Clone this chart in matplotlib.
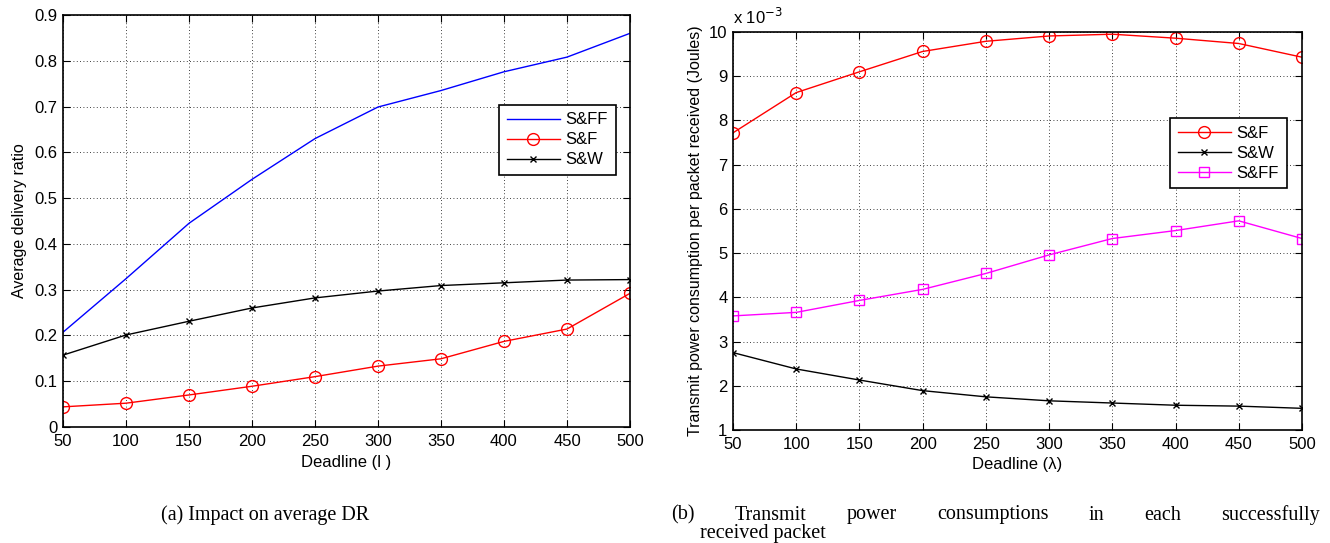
import matplotlib
matplotlib.use("Agg")
import matplotlib.pyplot as plt
import numpy as np

# ---------------- data ----------------
deadline = [50, 100, 150, 200, 250, 300, 350, 400, 450, 500]

dr_sff = [0.207, 0.324, 0.445, 0.541, 0.630, 0.699, 0.735, 0.776, 0.808, 0.860]
dr_sf = [0.044, 0.052, 0.070, 0.089, 0.110, 0.133, 0.149, 0.187, 0.214, 0.292]
dr_sw = [0.157, 0.201, 0.231, 0.260, 0.282, 0.297, 0.309, 0.315, 0.321, 0.322]

# transmit power per received packet, in units of 1e-3 Joules
pw_sf = [7.72, 8.63, 9.10, 9.56, 9.79, 9.91, 9.95, 9.86, 9.74, 9.43]
pw_sw = [2.75, 2.38, 2.13, 1.89, 1.75, 1.66, 1.61, 1.56, 1.54, 1.49]
pw_sff = [3.58, 3.66, 3.93, 4.18, 4.54, 4.96, 5.33, 5.51, 5.73, 5.33]

xticks = [50, 100, 150, 200, 250, 300, 350, 400, 450, 500]
yticks_left = [0, 0.1, 0.2, 0.3, 0.4, 0.5, 0.6, 0.7, 0.8, 0.9]
yticks_right = [1, 2, 3, 4, 5, 6, 7, 8, 9, 10]

caption_a = "(a) Impact on average DR"
caption_b1 = "(b) Transmit power consumptions in each successfully"
caption_b2 = "received packet"

# ---------------- style ----------------
plt.rcParams['font.family'] = ['Liberation Sans', 'DejaVu Sans']
plt.rcParams['font.size'] = 12

W, H = 1330, 543
fig = plt.figure(figsize=(W / 100, H / 100), dpi=100)


def px_axes(x0, y0, x1, y1):
    return fig.add_axes([x0 / W, 1 - y1 / H, (x1 - x0) / W, (y1 - y0) / H])


def style(ax):
    ax.set_xlim(50, 500)
    ax.set_xticks(xticks)
    ax.grid(True, color='black', linestyle=(0, (1, 3)), linewidth=0.6)
    ax.tick_params(direction='in', top=True, right=True, length=5,
                   width=0.8, labelsize=12)
    ax.tick_params(axis='x', pad=5)
    ax.tick_params(axis='y', pad=4)
    for s in ax.spines.values():
        s.set_linewidth(1.2)
    ax.set_axisbelow(True)


leg_kw = dict(fontsize=12, frameon=True, fancybox=False, edgecolor='black',
              borderpad=0.45, labelspacing=0.3, handlelength=3.2,
              handletextpad=0.35, borderaxespad=0, framealpha=1)

# ---------------- left panel ----------------
ax1 = px_axes(63, 15, 630, 427)
ax1.plot(deadline, dr_sff, color='blue', lw=1.0, label='S&FF')
ax1.plot(deadline, dr_sf, color='red', lw=1.0, marker='o', ms=8.5,
         mfc='none', mec='red', mew=1.0, label='S&F')
ax1.plot(deadline, dr_sw, color='black', lw=1.0, marker='x', ms=5,
         mew=1.0, label='S&W')
style(ax1)
ax1.set_ylim(0, 0.9)
ax1.set_yticks(yticks_left)
ax1.set_yticklabels(['0'] + [f"{v:.1f}" for v in yticks_left[1:]])
ax1.set_xlabel('Deadline (l )', fontsize=12, labelpad=4)
ax1.set_ylabel('Average delivery ratio', fontsize=11.5, labelpad=5)
leg1 = ax1.legend(loc='upper left',
                  bbox_to_anchor=((499 - 63) / 567, 1 - (105 - 15) / 412), **leg_kw)
leg1.get_frame().set_linewidth(1.2)

# ---------------- right panel ----------------
ax2 = px_axes(733, 32, 1302, 430)
ax2.plot(deadline, pw_sf, color='red', lw=1.0, marker='o', ms=8.5,
         mfc='none', mec='red', mew=1.0, label='S&F')
ax2.plot(deadline, pw_sw, color='black', lw=1.0, marker='x', ms=5,
         mew=1.0, label='S&W')
ax2.plot(deadline, pw_sff, color='magenta', lw=1.0, marker='s', ms=7,
         mfc='none', mec='magenta', mew=1.0, label='S&FF')
style(ax2)
ax2.set_ylim(1, 10)
ax2.set_yticks(yticks_right)
ax2.set_xlabel('Deadline (λ)', fontsize=12, labelpad=4)
ax2.set_ylabel('Transmit power consumption per packet received (Joules)',
               fontsize=11.5, labelpad=4)
ax2.text(0.0, 1.012, r'x 10$^{-3}$', transform=ax2.transAxes, fontsize=12,
         ha='left', va='bottom')
leg2 = ax2.legend(loc='upper left',
                  bbox_to_anchor=((1170 - 733) / 569, 1 - (118 - 32) / 398), **leg_kw)
leg2.get_frame().set_linewidth(1.2)

# ---------------- captions ----------------
cap_font = dict(family='Liberation Serif', fontsize=14.5)
fig.text(265 / W, 1 - 515 / H, caption_a, ha='center', va='center', **cap_font)

# justified first line of caption (b)
words = caption_b1.split()
x_start, x_end = 671, 1320
fig.canvas.draw()
renderer = fig.canvas.get_renderer()
tmp = [fig.text(0, 0, w, **cap_font) for w in words]
widths = [t.get_window_extent(renderer).width for t in tmp]
for t in tmp:
    t.remove()
gap = (x_end - x_start - sum(widths)) / (len(words) - 1)
x = x_start
for w, wd in zip(words, widths):
    fig.text(x / W, 1 - 515 / H, w, ha='left', va='center', **cap_font)
    x += wd + gap
fig.text(700 / W, 1 - 543 / H, caption_b2, ha='left', va='bottom', **cap_font)

fig.savefig('out.png', dpi=100)
